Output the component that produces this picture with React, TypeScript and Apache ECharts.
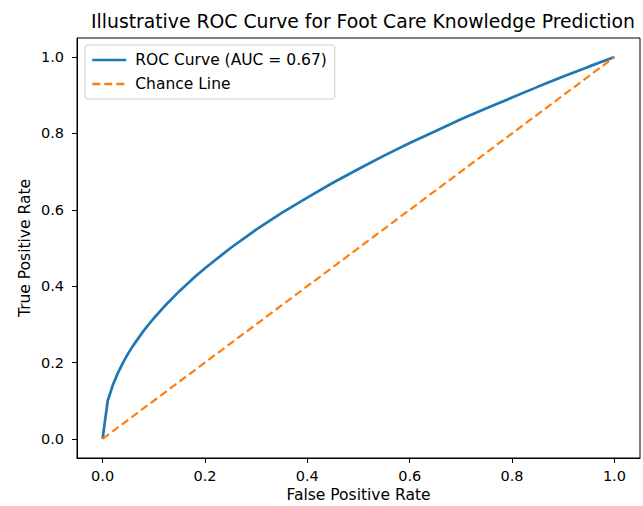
import React, { useEffect, useRef } from "react";
import * as echarts from "echarts";

const rocFpr = [0, 0.01, 0.02, 0.03, 0.04, 0.05, 0.06, 0.08, 0.1, 0.12, 0.15, 0.18, 0.2, 0.25, 0.3, 0.35, 0.4, 0.45, 0.5, 0.55, 0.6, 0.65, 0.7, 0.75, 0.8, 0.85, 0.9, 0.95, 1.0];
const rocTpr = [0, 0.1, 0.141, 0.173, 0.2, 0.224, 0.245, 0.283, 0.316, 0.346, 0.387, 0.424, 0.447, 0.5, 0.548, 0.592, 0.632, 0.671, 0.707, 0.742, 0.775, 0.806, 0.837, 0.866, 0.894, 0.922, 0.949, 0.975, 1.0];
const chanceX = [0, 1];
const chanceY = [0, 1];
const tickValues = [0, 0.2, 0.4, 0.6, 0.8, 1.0];
const rocName = "ROC Curve (AUC = 0.67)";
const chanceName = "Chance Line";
const titleText = "Illustrative ROC Curve for Foot Care Knowledge Prediction";

const FONT = "DejaVu Sans";

export default function App() {
  const ref = useRef<HTMLDivElement>(null);
  useEffect(() => {
    if (!ref.current) return;
    const chart = echarts.init(ref.current, undefined, { renderer: "svg" });
    const axisCommon = (margin: number) => ({
      type: "value" as const,
      min: -0.05,
      max: 1.05,
      splitLine: { show: false },
      axisLine: { show: true, onZero: false, lineStyle: { color: "#000", width: 1 } },
      axisTick: { show: true, length: 5, customValues: tickValues, lineStyle: { color: "#000", width: 1 } },
      axisLabel: {
        customValues: tickValues,
        formatter: (v: number) => v.toFixed(1),
        color: "#000",
        fontFamily: FONT,
        fontSize: 14.5,
        margin,
      },
      nameLocation: "middle" as const,
      nameMoveOverlap: false,
    });
    const nameStyle = { color: "#000", fontFamily: FONT, fontSize: 15.5 };
    chart.setOption({
      animation: false,
      backgroundColor: "#fff",
      title: {
        text: titleText,
        left: 358,
        top: 7,
        textAlign: "center",
        textStyle: { color: "#000", fontFamily: FONT, fontSize: 18.8, fontWeight: "normal" },
      },
      grid: {
        left: 77,
        right: 3,
        top: 38,
        bottom: 48,
        outerBoundsMode: "none",
        containLabel: false,
        show: true,
        borderColor: "#000",
        borderWidth: 1,
        backgroundColor: "transparent",
      },
      legend: {
        orient: "vertical",
        left: 85,
        top: 45,
        padding: [7, 8, 7, 6],
        itemGap: 8,
        itemWidth: 34,
        itemHeight: 16,
        borderColor: "#d0d0d0",
        borderWidth: 1,
        borderRadius: 3,
        backgroundColor: "rgba(255,255,255,0.8)",
        itemStyle: { opacity: 0 },
        lineStyle: { width: 2.5 },
        textStyle: { color: "#000", fontFamily: FONT, fontSize: 15.5, padding: [0, 0, 0, 4] },
        data: [rocName, chanceName],
      },
      xAxis: { ...axisCommon(10), name: "False Positive Rate", nameGap: 29, nameTextStyle: nameStyle },
      yAxis: { ...axisCommon(13), name: "True Positive Rate", nameGap: 44, nameTextStyle: nameStyle },
      series: [
        {
          name: rocName,
          type: "line",
          data: rocFpr.map((x, i) => [x, rocTpr[i]]),
          symbol: "none",
          lineStyle: { color: "#1f77b4", width: 2.7 },
          itemStyle: { color: "#1f77b4" },
        },
        {
          name: chanceName,
          type: "line",
          data: chanceX.map((x, i) => [x, chanceY[i]]),
          symbol: "none",
          lineStyle: { color: "#ff7f0e", width: 2.2, type: [8, 4] },
          itemStyle: { color: "#ff7f0e" },
        },
      ],
    });
    return () => chart.dispose();
  }, []);
  return <div ref={ref} style={{ width: 643, height: 506, position: "fixed", left: 0, top: 0 }} />;
}
